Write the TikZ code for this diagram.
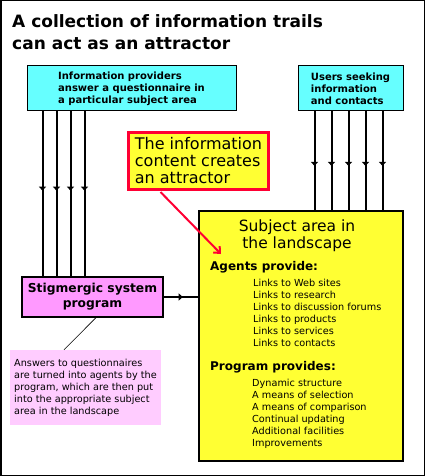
\documentclass[tikz,border=0pt]{standalone}
\usepackage{fontspec}
\setmainfont{DejaVu Sans}
\usepackage{xcolor}
\usepackage{tikz}
\usetikzlibrary{arrows.meta,positioning,calc,decorations.markings}
\definecolor{trailcyan}{HTML}{66FFFF}
\definecolor{areayellow}{HTML}{FFFF33}
\definecolor{progpink}{HTML}{FF99FF}
\definecolor{notepink}{HTML}{FFCCFF}
\definecolor{attred}{HTML}{FF0033}
\tikzset{
  at_user/.style={
    draw, rectangle, fill=trailcyan, line width=1pt,
    align=left, font=\bfseries\fontsize{10}{12}\selectfont
  },
  at_attr/.style={
    draw=attred, rectangle, fill=areayellow, line width=3pt,
    align=left, font=\fontsize{16}{17}\selectfont
  },
  at_area/.style={
    draw, rectangle, fill=areayellow, line width=1.2pt
  },
  at_prog/.style={
    draw, rectangle, fill=progpink, line width=1.2pt,
    align=center, font=\bfseries\fontsize{12.3}{15}\selectfont
  },
  at_note/.style={
    rectangle, fill=notepink, align=left,
    font=\fontsize{9.7}{12}\selectfont
  },
  at_head/.style={anchor=west, inner sep=0pt, font=\bfseries\fontsize{12}{14}\selectfont},
  at_list/.style={anchor=west, inner sep=0pt, align=left, font=\fontsize{9.7}{12.1}\selectfont},
  at_trail/.style={line width=2pt, postaction=decorate,
    decoration={markings, mark=at position #1 with {\arrow{Triangle[length=4pt,width=7pt]}}}},
  at_ptr/.style={draw=attred, line width=2pt, -{Straight Barb[length=5pt,width=9pt,line width=2pt]}},
}
\begin{document}
\begin{tikzpicture}[x=1pt, y=-1pt]
\useasboundingbox (0,0) rectangle (425,476);
\draw[line width=1.5pt] (0.75,0.75) rectangle (424.25,475.25);

% Title
\node[anchor=west, inner sep=0pt, align=left, font=\bfseries\fontsize{17}{22}\selectfont]
  (title) at (12,32) {A collection of information trails\\can act as an attractor};

% Boxes
\node[at_user, minimum width=209pt, minimum height=45pt] (prov) at (131.5,88.5)
  {Information providers\\answer a questionnaire in\\a particular subject area};
\node[at_user, minimum width=105pt, minimum height=45pt] (seek) at (350.5,88.5)
  {Users seeking\\information\\and contacts};
\node[at_area, minimum width=204pt, minimum height=250pt] (area) at (301,336) {};
\node[at_attr, minimum width=140pt, minimum height=57pt] (attr) at (198.5,161)
  {The information\\content creates\\an attractor};
\node[at_prog, minimum width=141pt, minimum height=40pt] (stig) at (92.5,297)
  {Stigmergic system\\program};
\node[at_note, minimum width=151pt, minimum height=75pt] (note) at (85.5,387.5)
  {Answers to questionnaires\\are turned into agents by the\\program, which are then put\\into the appropriate subject\\area in the landscape};

% Text inside the subject area
\node[anchor=center, inner sep=0pt, align=center, font=\fontsize{15.5}{17}\selectfont]
  (areatitle) at (297,236) {Subject area in\\the landscape};
\node[at_head] (agents) at (210,267) {Agents provide:};
\node[at_list] (agentlist) at (253,313)
  {Links to Web sites\\Links to research\\Links to discussion forums\\Links to products\\Links to services\\Links to contacts};
\node[at_head] (program) at (210,367) {Program provides:};
\node[at_list] (programlist) at (252,414)
  {Dynamic structure\\A means of selection\\A means of comparison\\Continual updating\\Additional facilities\\Improvements};

% Information trails
\foreach \dx in {16,30,44,58}
  \draw[at_trail=0.48] ([xshift=\dx pt]prov.south west) -- ([xshift=\dx pt]prov.south west |- stig.north);
\foreach \dx in {17,34,51,68,85}
  \draw[at_trail=0.55] ([xshift=\dx pt]seek.south west) -- ([xshift=\dx pt]seek.south west |- area.north);
\draw[at_trail=0.55] (stig.east) -- (stig.east -| area.west);

% Pointers
\coordinate (target) at (221,254);
\draw[at_ptr] ([xshift=-38pt, yshift=-1pt]attr.south) -- (target);
\draw[line width=0.6pt] ([xshift=3.5pt]stig.south) -- ([xshift=-21.5pt]note.north);

\end{tikzpicture}
\end{document}
